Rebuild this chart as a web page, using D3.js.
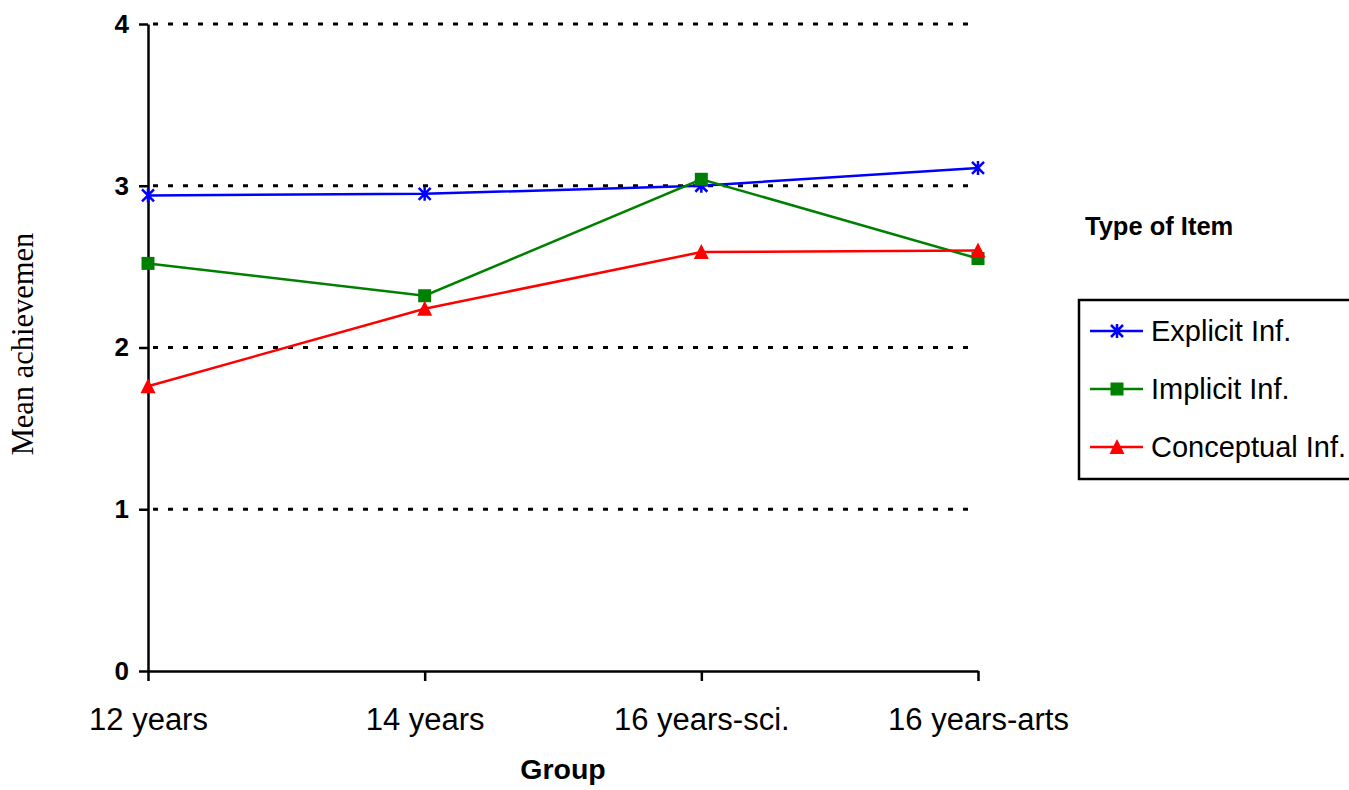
<!DOCTYPE html>
<html><head><meta charset="utf-8">
<script src="https://cdn.jsdelivr.net/npm/d3@7"></script>
<style>body{margin:0;background:#fff}svg{display:block}</style>
</head><body>
<svg id="c" width="1349" height="790"></svg>
<script>
const categories = ["12 years", "14 years", "16 years-sci.", "16 years-arts"];
const explicitInf = [2.94, 2.95, 3.00, 3.11];
const implicitInf = [2.52, 2.32, 3.04, 2.55];
const conceptualInf = [1.76, 2.24, 2.59, 2.60];
const yTicks = [0, 1, 2, 3, 4];
const seriesNames = ["Explicit Inf.", "Implicit Inf.", "Conceptual Inf."];

const series = [
  {name: seriesNames[0], values: explicitInf, color: "#0000FF", marker: "star"},
  {name: seriesNames[1], values: implicitInf, color: "#008000", marker: "square"},
  {name: seriesNames[2], values: conceptualInf, color: "#FF0000", marker: "triangle"}
];

const SANS = "Liberation Sans, Arial, sans-serif";
const svg = d3.select("#c");
const x = d3.scalePoint().domain(categories).range([148, 978]);
const y = d3.scaleLinear().domain([0, 4]).range([671, 24]);

// gridlines
svg.append("g").selectAll("line").data(yTicks.filter(d => d > 0)).join("line")
  .attr("x1", 153).attr("x2", 978)
  .attr("y1", d => y(d)).attr("y2", d => y(d))
  .attr("stroke", "#000").attr("stroke-width", 3).attr("stroke-dasharray", "5,10");

// y axis
const yAxis = svg.append("g").attr("transform", "translate(148,0)")
  .call(d3.axisLeft(y).tickValues(yTicks).tickFormat(d3.format("d")).tickSize(9).tickSizeOuter(0).tickPadding(10));
yAxis.select(".domain").attr("stroke-width", 2.5);
yAxis.selectAll(".tick line").attr("stroke-width", 2.5);
yAxis.selectAll("text").attr("font-family", SANS)
  .attr("font-size", 26).attr("font-weight", "bold").attr("fill", "#000");

// x axis
const xAxis = svg.append("g").attr("transform", "translate(0,671)")
  .call(d3.axisBottom(x).tickSize(10).tickSizeOuter(0).tickPadding(0));
xAxis.select(".domain").attr("stroke-width", 2.5);
xAxis.selectAll(".tick line").attr("stroke-width", 2.5);
xAxis.selectAll("text").attr("font-family", SANS)
  .attr("font-size", 31).attr("fill", "#000").attr("dy", null).attr("y", 59);

// titles
svg.append("text").attr("x", 563).attr("y", 779).attr("text-anchor", "middle")
  .attr("font-family", SANS).attr("font-size", 28.5)
  .attr("font-weight", "bold").text("Group");
svg.append("text").attr("transform", "translate(33,344) rotate(-90)").attr("text-anchor", "middle")
  .attr("font-family", "Liberation Serif, Times New Roman, serif").attr("font-size", 30.5)
  .text("Mean achievemen");

function drawMarker(g, type, color) {
  if (type === "square") {
    g.append("rect").attr("x", -6.5).attr("y", -6.5).attr("width", 13).attr("height", 13).attr("fill", color);
  } else if (type === "triangle") {
    g.append("path").attr("d", "M0,-8 L7.5,7 L-7.5,7 Z").attr("fill", color);
  } else {
    g.append("path").attr("d", "M-6,-6 L6,6 M-6,6 L6,-6 M0,-7 L0,7")
      .attr("stroke", color).attr("stroke-width", 2.5).attr("fill", "none");
  }
}

const line = d3.line().x((d, i) => x(categories[i])).y(d => y(d));
series.forEach(s => {
  svg.append("path").datum(s.values).attr("d", line)
    .attr("fill", "none").attr("stroke", s.color).attr("stroke-width", 2.5);
});
series.forEach(s => {
  s.values.forEach((v, i) => {
    const g = svg.append("g").attr("transform", `translate(${x(categories[i])},${y(v)})`);
    drawMarker(g, s.marker, s.color);
  });
});

// legend
svg.append("text").attr("x", 1085).attr("y", 235)
  .attr("font-family", SANS).attr("font-size", 25.5)
  .attr("font-weight", "bold").text("Type of Item");
svg.append("rect").attr("x", 1079).attr("y", 300).attr("width", 280).attr("height", 179)
  .attr("fill", "none").attr("stroke", "#000").attr("stroke-width", 2.5);
series.forEach((s, i) => {
  const ly = 331 + i * 58;
  svg.append("line").attr("x1", 1090).attr("x2", 1143).attr("y1", ly).attr("y2", ly)
    .attr("stroke", s.color).attr("stroke-width", 2.5);
  const g = svg.append("g").attr("transform", `translate(1117,${ly})`);
  drawMarker(g, s.marker, s.color);
  svg.append("text").attr("x", 1151).attr("y", ly + 10)
    .attr("font-family", SANS).attr("font-size", 29)
    .text(s.name);
});
</script>
</body></html>
